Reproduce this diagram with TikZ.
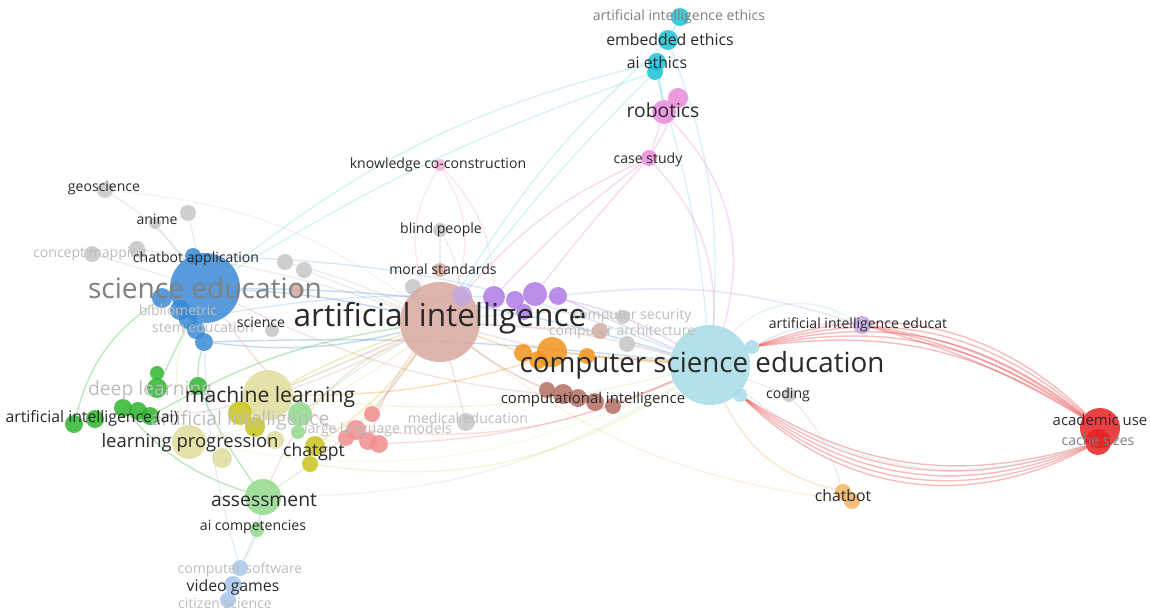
\documentclass[tikz,border=0pt]{standalone}
\usepackage{fontspec}
\setmainfont{Open Sans}
\usepackage{xcolor}
\usetikzlibrary{positioning}
\definecolor{aic}{HTML}{D8A99F}
\definecolor{blu}{HTML}{3A8AD6}
\definecolor{csc}{HTML}{A8DCE6}
\definecolor{grn}{HTML}{2FB52F}
\definecolor{lgr}{HTML}{92DA8C}
\definecolor{yel}{HTML}{C9C41C}
\definecolor{pyl}{HTML}{E0DE9C}
\definecolor{sal}{HTML}{F28E8E}
\definecolor{org}{HTML}{F3931C}
\definecolor{pur}{HTML}{B07CE6}
\definecolor{brn}{HTML}{B46E62}
\definecolor{mag}{HTML}{E98ADA}
\definecolor{cya}{HTML}{1DC2D8}
\definecolor{redc}{HTML}{E52222}
\definecolor{gry}{HTML}{C6C6C6}
\definecolor{lbl}{HTML}{A7C6EE}
\definecolor{lor}{HTML}{F2B263}
\definecolor{pnk}{HTML}{F0B2D4}
\definecolor{lav}{HTML}{C2A6E2}
\definecolor{txt}{HTML}{2A2A2A}
\definecolor{fad}{HTML}{BDBDBD}
\pgfdeclarelayer{bg}
\pgfsetlayers{bg,main}

\begin{document}
\begin{tikzpicture}[x=0.02cm, y=-0.02cm,
    kw/.style 2 args={circle, inner sep=0pt, minimum size=#2*0.4mm, fill=#1, fill opacity=0.85},
    edge/.style={draw=#1, line width=0.8pt, draw opacity=0.3},
    pale/.style={draw=#1, line width=0.8pt, draw opacity=0.18},
    lab/.style={font=\fontsize{#1}{#1}\selectfont, text=txt, inner sep=0pt},
    faint/.style={font=\fontsize{#1}{#1}\selectfont, text=fad, inner sep=0pt}]
  \useasboundingbox (0,0) rectangle (1150,609);
  \begin{pgfonlayer}{bg}
    \fill[white] (0,0) rectangle (1150,609);
  \end{pgfonlayer}

  % grey keywords
  \node[kw={gry}{8}] (geo) at (105,190) {};
  \node[kw={gry}{8}] (anim) at (188,213) {};
  \node[kw={gry}{6}] (anim2) at (155,223) {};
  \node[kw={gry}{8}] (cmap) at (92,254) {};
  \node[kw={gry}{8}] (cmap2) at (137,249) {};
  \node[kw={gry}{8}] (gr1) at (285,262) {};
  \node[kw={gry}{8}] (gr2) at (304,270) {};
  \node[kw={aic}{7}] (sal0) at (297,290) {};
  \node[kw={gry}{7}] (scin) at (272,330) {};
  \node[kw={pnk}{6}] (kcc) at (440,165) {};
  \node[kw={gry}{7}] (blind) at (440,230) {};
  \node[kw={aic}{7}] (moral) at (440,270) {};
  \node[kw={gry}{8}] (gr3) at (413,287) {};
  \node[kw={gry}{9}] (med) at (466,422) {};
  \node[kw={gry}{7}] (csec) at (623,317) {};
  \node[kw={aic}{8}] (carch) at (600,331) {};
  \node[kw={gry}{8}] (gr4) at (627,344) {};
  \node[kw={gry}{7}] (coding) at (789,395) {};

  % science education cluster
  \node[kw={blu}{35}] (sci) at (205,288) {};
  \node[kw={blu}{8}] (b0) at (193,256) {};
  \node[kw={blu}{10}] (b1) at (162,298) {};
  \node[kw={blu}{10}] (b2) at (180,310) {};
  \node[kw={blu}{9}] (b3) at (188,320) {};
  \node[kw={blu}{9}] (b4) at (196,330) {};
  \node[kw={blu}{9}] (b5) at (204,342) {};

  % green cluster
  \node[kw={grn}{7}] (g1) at (157,373) {};
  \node[kw={grn}{10}] (g2) at (157,388) {};
  \node[kw={grn}{9}] (g3) at (198,386) {};
  \node[kw={grn}{9}] (g4) at (123,408) {};
  \node[kw={grn}{9}] (g5) at (138,411) {};
  \node[kw={grn}{9}] (g6) at (150,416) {};
  \node[kw={grn}{9}] (g7) at (95,419) {};
  \node[kw={grn}{9}] (g8) at (74,424) {};
  \node[kw={lgr}{12}] (lg1) at (300,414) {};
  \node[kw={lgr}{7}] (lg2) at (298,432) {};
  \node[kw={lgr}{18}] (assess) at (263,497) {};
  \node[kw={lgr}{7}] (aicomp) at (257,530) {};

  % yellow cluster
  \node[kw={pyl}{25}] (ml) at (268,395) {};
  \node[kw={pyl}{17}] (py1) at (189,442) {};
  \node[kw={pyl}{10}] (py2) at (222,458) {};
  \node[kw={pyl}{9}] (py3) at (275,440) {};
  \node[kw={yel}{12}] (y1) at (240,413) {};
  \node[kw={yel}{10}] (y2) at (255,427) {};
  \node[kw={yel}{10}] (y3) at (315,446) {};
  \node[kw={yel}{8}] (y4) at (310,464) {};

  % salmon cluster
  \node[kw={sal}{8}] (s1) at (372,414) {};
  \node[kw={sal}{10}] (s2) at (356,430) {};
  \node[kw={sal}{9}] (s3) at (368,441) {};
  \node[kw={sal}{9}] (s4) at (379,444) {};
  \node[kw={sal}{8}] (s5) at (346,438) {};

  % artificial intelligence and neighbours
  \node[kw={aic}{40}] (ai) at (440,322) {};
  \node[kw={lav}{10}] (p0) at (462,296) {};
  \node[kw={pur}{11}] (p1) at (494,297) {};
  \node[kw={pur}{9}] (p2) at (515,300) {};
  \node[kw={pur}{12}] (p3) at (535,294) {};
  \node[kw={pur}{9}] (p4) at (558,296) {};
  \node[kw={pur}{8}] (p5) at (524,312) {};
  \node[kw={org}{9}] (o1) at (523,353) {};
  \node[kw={org}{9}] (o4) at (538,360) {};
  \node[kw={org}{15}] (o2) at (552,352) {};
  \node[kw={org}{8}] (o3) at (587,356) {};
  \node[kw={brn}{8}] (br1) at (547,390) {};
  \node[kw={brn}{10}] (br2) at (563,394) {};
  \node[kw={brn}{9}] (br3) at (578,398) {};
  \node[kw={brn}{9}] (br4) at (595,402) {};
  \node[kw={brn}{8}] (br5) at (613,406) {};

  % computer science education
  \node[kw={csc}{40}] (cse) at (710,365) {};
  \node[kw={csc}{7}] (c1) at (752,347) {};
  \node[kw={csc}{7}] (c2) at (740,395) {};
  \node[kw={lav}{9}] (aied) at (862,325) {};
  \node[kw={redc}{20}] (acad) at (1100,428) {};
  \node[kw={redc}{13}] (acad2) at (1098,442) {};
  \node[kw={lor}{8}] (cb1) at (843,492) {};
  \node[kw={lor}{8}] (cb2) at (852,501) {};

  % ethics and robotics
  \node[kw={mag}{8}] (case) at (649,158) {};
  \node[kw={mag}{10}] (rob1) at (678,98) {};
  \node[kw={mag}{12}] (rob2) at (664,112) {};
  \node[kw={cya}{9}] (e1) at (680,17) {};
  \node[kw={cya}{10}] (e2) at (668,40) {};
  \node[kw={cya}{9}] (e3) at (657,62) {};
  \node[kw={cya}{8}] (e4) at (655,72) {};

  % video games
  \node[kw={lbl}{8}] (v1) at (240,568) {};
  \node[kw={lbl}{9}] (v2) at (233,585) {};
  \node[kw={lbl}{8}] (v3) at (228,600) {};

  % links
  \begin{pgfonlayer}{bg}
    \foreach \b in {20,23,26,29,32}
      \draw[edge=redc] (c1) to[bend left=\b] (acad);
    \foreach \b in {8,11,14}
      \draw[edge=redc] (aied) to[bend left=\b] (acad);
    \foreach \b in {24,27,30,33,36}
      \draw[edge=redc] (c2) to[bend right=\b] (acad2);
    \draw[edge=csc] (cse) to[bend right=28] (acad2);
    \draw[edge=csc] (cse) to[bend left=40] (aied);
    \draw[edge=lav] (p4) to[bend left=12] (aied);
    \draw[edge=lav] (c1) to[bend left=15] (aied);
    \draw[pale=cya] (e3) to[bend right=12] (sci);
    \draw[pale=cya] (e4) to[bend right=6] (sci);
    \draw[pale=cya] (e2) to[bend right=8] (ai);
    \draw[pale=cya] (e4) to[bend right=4] (ai);
    \draw[pale=cya] (e4) to[bend left=6] (cse);
    \draw[pale=cya] (e2) to[bend left=12] (cse);
    \draw[edge=cya] (e1) -- (e2);
    \draw[edge=cya] (e3) -- (rob2);
    \draw[edge=mag] (rob2) -- (case);
    \draw[edge=mag] (rob1) to[bend left=5] (case);
    \draw[edge=mag] (case) to[bend right=12] (ai);
    \draw[edge=mag] (case) to[bend right=5] (p1);
    \draw[edge=mag] (case) to[bend right=2] (p3);
    \draw[edge=mag] (case) to[bend left=22] (cse);
    \draw[edge=mag] (rob2) to[bend left=30] (cse);
    \draw[edge=pnk] (kcc) to[bend right=25] (ai);
    \draw[edge=pnk] (kcc) to[bend left=25] (ai);
    \draw[edge=pnk] (kcc) to[bend left=20] (p1);
    \draw[edge=gry] (blind) -- (moral);
    \draw[edge=gry] (blind) to[bend left=10] (p0);
    \draw[edge=gry] (geo) to[bend left=10] (sci);
    \draw[pale=gry] (geo) to[bend left=15] (ai);
    \draw[edge=gry] (anim) -- (sci);
    \draw[edge=gry] (anim2) -- (sci);
    \draw[edge=gry] (cmap) -- (sci);
    \draw[edge=gry] (cmap2) to[bend left=5] (ai);
    \draw[edge=gry] (gr1) to[bend left=5] (ai);
    \draw[edge=gry] (gr2) -- (ai);
    \draw[edge=blu] (sci) to[bend left=8] (cse);
    \draw[pale=blu] (b0) to[bend left=10] (cse);
    \draw[edge=blu] (b5) to[bend left=4] (cse);
    \draw[edge=blu] (sci) to[bend left=5] (ai);
    \draw[edge=blu] (b5) to[bend right=10] (ai);
    \draw[pale=blu] (b3) to[bend left=6] (p1);
    \draw[edge=grn] (g2) -- (sci);
    \draw[edge=grn] (g3) to[bend left=8] (b5);
    \draw[edge=grn] (g8) to[bend left=20] (b1);
    \draw[edge=grn] (g6) to[bend left=10] (ai);
    \draw[edge=grn] (g4) to[bend right=15] (assess);
    \draw[edge=grn] (g3) to[bend right=5] (assess);
    \draw[edge=lgr] (lg1) to[bend left=5] (ai);
    \draw[edge=lgr] (assess) to[bend right=10] (ai);
    \draw[pale=lgr] (assess) to[bend right=15] (cse);
    \draw[edge=lgr] (assess) -- (aicomp);
    \draw[edge=lgr] (aicomp) -- (v1);
    \draw[edge=lbl] (v1) -- (v2);
    \draw[edge=lbl] (v2) -- (v3);
    \draw[edge=lbl] (v1) to[bend right=10] (assess);
    \draw[edge=lbl] (v1) to[bend left=8] (sci);
    \draw[edge=pyl] (ml) -- (ai);
    \draw[edge=pyl] (ml) to[bend right=10] (cse);
    \draw[edge=pyl] (py1) to[bend right=12] (ai);
    \draw[edge=pyl] (py1) to[bend left=20] (sci);
    \draw[pale=pyl] (py1) to[bend right=18] (cse);
    \draw[edge=yel] (y1) to[bend left=6] (ai);
    \draw[edge=yel] (y3) to[bend right=8] (ai);
    \draw[pale=yel] (y4) to[bend right=20] (cse);
    \draw[edge=sal] (s1) -- (ai);
    \draw[edge=sal] (s2) to[bend right=14] (cse);
    \draw[edge=sal] (s4) to[bend right=10] (cse);
    \draw[edge=sal] (s3) to[bend left=10] (ai);
    \draw[edge=sal] (s5) to[bend left=10] (sci);
    \draw[edge=aic] (ai) to[bend left=6] (cse);
    \draw[edge=aic] (ai) to[bend right=6] (cse);
    \draw[edge=aic] (ai) -- (med);
    \draw[edge=aic] (ai) -- (ml);
    \draw[edge=aic] (ai) to[bend right=20] (assess);
    \draw[edge=aic] (ai) to[bend left=12] (g8);
    \draw[edge=aic] (carch) -- (ai);
    \draw[edge=gry] (csec) to[bend right=6] (ai);
    \draw[edge=gry] (gr4) -- (cse);
    \draw[edge=gry] (coding) -- (cse);
    \draw[edge=gry] (coding) to[bend left=12] (cb1);
    \draw[edge=lor] (cb1) to[bend left=25] (cse);
    \draw[pale=lor] (cb2) to[bend left=15] (ai);
    \draw[edge=pur] (p1) -- (ai);
    \draw[edge=pur] (p3) to[bend left=10] (cse);
    \draw[edge=pur] (p4) -- (cse);
    \draw[edge=org] (o2) -- (cse);
    \draw[edge=org] (o1) -- (ai);
    \draw[edge=org] (o3) -- (cse);
    \draw[edge=org] (o4) to[bend left=8] (ml);
    \draw[edge=brn] (br1) to[bend left=6] (ai);
    \draw[edge=brn] (br5) -- (cse);
    \draw[pale=brn] (br3) to[bend left=10] (sci);
    \draw[edge=csc] (c2) -- (cse);
    \draw[edge=csc] (c1) -- (cse);
  \end{pgfonlayer}

  % labels
  \node[lab=8] (lgeo) at (104,188) {geoscience};
  \node[lab=8] (lanim) at (157,219) {anime};
  \node[faint=8] (lcmap) at (90,254) {concept mapping};
  \node[lab=8] (lcbapp) at (196,259) {chatbot application};
  \node[font=\fontsize{16}{16}\selectfont, text=gray, inner sep=0pt] (lsci) at (205,288) {science education};
  \node[faint=8] (lbib) at (178,310) {bibliometric};
  \node[faint=8] (lstem) at (203,327) {stem education};
  \node[lab=8] (lscin) at (261,322) {science};
  \node[lab=18] (lai) at (440,318) {artificial intelligence};
  \node[lab=8] (lkcc) at (438,165) {knowledge co-construction};
  \node[lab=8] (lblind) at (441,230) {blind people};
  \node[lab=8] (lmoral) at (443,269) {moral standards};
  \node[faint=8] (lcsec) at (632,316) {computer security};
  \node[faint=8] (lcarch) at (622,332) {computer architecture};
  \node[lab=15.8] (lcse) at (702,365) {computer science education};
  \node[lab=8.5] (lcomp) at (593,400) {computational intelligence};
  \node[faint=8] (lmed) at (468,418) {medical education};
  \node[lab=8] (laied) at (858,325) {artificial intelligence educat};
  \node[lab=8] (lcoding) at (788,395) {coding};
  \node[lab=8.5] (lacad) at (1100,420) {academic use};
  \node[font=\fontsize{8}{8}\selectfont, text=gray, inner sep=0pt] (lcache) at (1098,440) {cache sizes};
  \node[lab=9] (lcb) at (843,496) {chatbot};
  \node[lab=8] (lcase) at (648,160) {case study};
  \node[lab=11] (lrob) at (663,110) {robotics};
  \node[lab=9] (laieth) at (657,63) {ai ethics};
  \node[lab=9] (lemb) at (670,40) {embedded ethics};
  \node[font=\fontsize{8}{8}\selectfont, text=gray, inner sep=0pt] (laie) at (679,17) {artificial intelligence ethics};
  \node[faint=11] (ldeep) at (150,390) {deep learning};
  \node[faint=11] (lai2) at (240,420) {artificial intelligence};
  \node[faint=8] (lllm) at (378,430) {large language models};
  \node[lab=12] (lml) at (270,397) {machine learning};
  \node[lab=9] (laiai) at (92,418) {artificial intelligence (ai)};
  \node[lab=10.5] (llp) at (190,443) {learning progression};
  \node[lab=10] (lgpt) at (314,452) {chatgpt};
  \node[lab=11] (lassess) at (264,500) {assessment};
  \node[lab=8] (laicomp) at (253,527) {ai competencies};
  \node[faint=8] (lsoft) at (240,570) {computer software};
  \node[lab=9] (lvg) at (233,587) {video games};
  \node[faint=8] (lcit) at (225,603) {citizen science};
\end{tikzpicture}
\end{document}
